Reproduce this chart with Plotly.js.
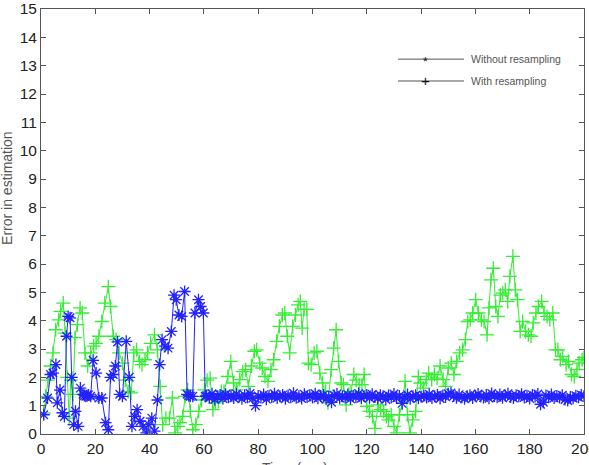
<!DOCTYPE html>
<html>
<head>
<meta charset="utf-8">
<script src="https://cdn.plot.ly/plotly-3.0.1.min.js"></script>
<style>html,body{margin:0;padding:0;background:#fff;}#chart{width:589px;height:465px;}</style>
</head>
<body>
<div id="chart"></div>
<script>
// "Without resampling" (blue, asterisk markers)
var blueX = [1,2.4,3.5,4.4,5.5,6,7,7.9,8.6,9.4,10,10.7,11.3,12,12.7,13.7,14.5,15.5,16,16.5,17,17.5,18.3,19.2,20.3,21.3,22.4,23.8,24.8,25.6,26.6,27.4,28.2,29,30,31.4,32.5,33.5,34.5,35.4,36.5,37.6,38.8,39.7,40.8,41.8,42.9,43.7,44.6,45.7,46.8,48,49,49.8,50.8,51.8,52.9,53.8,54.4,55,55.9,56.7,58,58.8,59.8,60.5,
  61,62,63,64,65,66,67,68,69,70,71,72,73,74,75,76,77,78,79,80,81,82,83,84,85,86,87,88,89,90,91,92,93,94,95,96,97,98,99,100,
  101,102,103,104,105,106,107,108,109,110,111,112,113,114,115,116,117,118,119,120,121,122,123,124,125,126,127,128,129,130,
  131,132,133,134,135,136,137,138,139,140,141,142,143,144,145,146,147,148,149,150,151,152,153,154,155,156,157,158,159,160,
  161,162,163,164,165,166,167,168,169,170,171,172,173,174,175,176,177,178,179,180,181,182,183,184,185,186,187,188,189,190,
  191,192,193,194,195,196,197,198,199,200];
var blueY = [0.68,1.27,2.1,2.15,2.45,1.1,1.55,0.75,0.62,3.45,4.15,4.1,2.0,0.33,0.8,0.27,1.62,1.4,1.36,1.33,1.35,1.38,1.33,2.6,2.15,1.27,1.27,0.4,0.15,2.0,2.1,2.4,3.25,1.4,1.33,3.27,2.0,0.27,0.62,0.86,0.45,0.27,0.04,0.33,0.56,0.1,1.2,2.45,3.33,3.1,3.03,3.62,4.9,4.74,4.2,4.15,5.03,1.4,1.36,1.33,1.33,4.27,4.74,4.5,4.27,1.33,
  1.35,1.28,1.42,1.22,1.33,1.38,1.25,1.40,1.30,1.36,
  1.27,1.41,1.32,1.24,1.37,1.30,1.43,1.26,1.00,1.34,
  1.29,1.39,1.23,1.35,1.31,1.42,1.27,1.33,1.38,1.24,
  1.36,1.30,1.44,1.28,1.33,1.25,1.40,1.31,1.37,1.29,
  1.42,1.26,1.34,1.38,1.23,1.32,1.12,1.36,1.41,1.27,
  1.33,1.29,1.39,1.24,1.35,1.30,1.43,1.26,1.34,1.38,
  1.28,1.40,1.31,1.25,1.37,1.33,1.22,1.36,1.29,1.41,
  1.27,1.34,1.08,1.30,1.39,1.24,1.33,1.37,1.26,1.32,
  1.35,1.29,1.40,1.27,1.33,1.38,1.25,1.36,1.31,1.42,
  1.45,1.34,1.28,1.39,1.30,1.24,1.33,1.37,1.27,1.35,
  1.41,1.32,1.29,1.38,1.26,1.43,1.34,1.30,1.39,1.28,
  1.36,1.42,1.31,1.27,1.37,1.33,1.40,1.29,1.35,1.25,
  1.38,1.32,1.41,1.05,1.12,1.36,1.30,1.39,1.27,1.34,
  1.29,1.37,1.22,1.18,1.31,1.26,1.35,1.30,1.38,1.33];

// "With resampling" (green, plus markers)
var greenX = [1,1.7,2.6,3.5,4.4,5.4,6.5,7.2,8.2,8.9,9.7,10.4,11,11.8,12.5,13.4,14.4,15.2,16.2,17.2,18.3,19.4,20.3,21.3,22.4,23.5,24.8,25.6,26.6,27.7,28.8,30,31,32.1,33.2,34.2,35.2,36.3,37.2,38.3,39.3,40.4,41.8,42.9,43.9,44.8,46,47.3,48.4,49.4,50.4,51.2,52.2,53.1,54,55,55.9,57,58.1,59.1,60.2,
  61.2,62.3,63.3,64.2,65.3,66.4,67.4,68.8,69.9,70.9,72,73.2,74.3,75.4,76.4,77.5,78.6,79.4,80.6,81.5,82.5,83.6,84.7,85.7,86.8,87.8,88.9,89.8,90.7,91.6,92.7,93.7,94.7,95.5,96.2,96.9,97.9,98.5,99.5,100.6,
  101.6,102.7,103.7,104.8,105.7,106.9,107.8,108.7,109.6,110.6,111.4,112.4,113.4,114.2,115.2,116.1,117.2,118.2,119,120,121,122.1,123,124.2,125.1,126.2,127.2,128,129,130,131,132,133.1,134.1,135,135.9,136.9,138,139,139.8,
  140.8,141.9,142.8,143.9,144.9,145.9,147,148.1,149,150,151.1,152.1,153.1,154.2,155.3,156.3,157.2,158.1,159,160.1,161.1,162.2,163.2,164.3,165,165.7,166.6,167.5,168.3,169.2,170.1,171,171.9,172.7,173.8,174.7,175.5,176.5,177.4,178.5,
  179.5,180.5,181.3,182.3,183.2,184.4,185.3,186.4,187.4,188.5,189.5,190.4,191.3,192.2,193.4,194.3,195.4,196.4,197.4,198.2,199.3,200];
var greenY = [0.74,1.33,1.9,2.4,2.86,3.68,4.03,4.33,4.62,3.56,2.0,0.56,1.9,1.4,3.4,3.86,4.45,4.27,2.86,2.4,2.86,3.1,3.2,3.45,3.97,4.62,5.2,4.5,3.45,3.33,2.86,2.5,1.9,1.5,1.45,2.86,2.97,2.56,2.45,2.62,2.86,3.2,3.5,2.97,1.68,0.33,0.56,0.56,1.27,0.04,0.27,0.4,0.62,1.33,1.56,0.8,0.15,0.33,0.8,1.2,1.56,
  1.9,1.97,0.86,1.1,1.15,1.5,1.5,2.03,2.56,1.8,1.56,1.92,2.2,2.27,1.68,2.4,2.92,2.97,2.5,2.33,2.03,1.86,2.27,2.62,3.27,3.8,4.2,4.27,3.45,2.86,3.8,4.2,4.56,4.68,3.74,4.4,4.4,2.5,2.45,2.86,
  2.92,2.15,1.8,1.5,1.1,2.27,3.03,3.68,2.56,1.8,1.74,1.03,1.4,1.5,2.1,1.9,1.74,1.74,2.1,0.98,0.8,0.62,0.2,1.03,0.86,0.8,0.62,0.5,0.68,0.27,0.04,0.68,1.1,1.86,0.68,0.04,0.5,0.8,2.03,1.8,
  1.62,1.92,2.15,1.92,2.1,1.97,2.4,1.92,1.68,2.33,2.5,2.1,2.56,2.86,2.97,3.33,3.97,4.03,4.27,4.74,4.27,4.03,3.97,3.5,4.45,5.44,5.85,4.5,4.15,4.9,4.97,5.09,4.68,5.56,6.27,5.09,4.74,3.62,3.97,3.62,
  3.5,3.45,3.92,4.27,4.5,4.68,4.27,4.15,4.03,4.27,2.97,2.97,2.62,2.74,2.45,2.56,2.1,2.03,2.27,2.5,2.62,2.7];

var seriesNames = ["Without resampling", "With resampling"];
var legendSymbols = ["*", "+"];
var xTicks = [0,20,40,60,80,100,120,140,160,180,200];
var xTickLabels = ["0","20","40","60","80","100","120","140","160","180","200"];
var yTicks = [0,1,2,3,4,5,6,7,8,9,10,11,12,13,14,15];

var traces = [
  {x: greenX, y: greenY, type: 'scatter', mode: 'lines+markers', showlegend: false,
   line: {color: '#33ee33', width: 1},
   marker: {symbol: 'cross-thin-open', size: 10, line: {color: '#33ee33', width: 1.3}}},
  {x: blueX, y: blueY, type: 'scatter', mode: 'lines+markers', showlegend: false,
   line: {color: '#2222ff', width: 1},
   marker: {symbol: 'asterisk-open', size: 10, line: {color: '#2222ff', width: 1.3}}}
];

var axisCommon = {
  showgrid: false, zeroline: false, showline: true, linecolor: '#555', linewidth: 1,
  mirror: 'ticks', ticks: 'inside', ticklen: 5, tickcolor: '#555', ticklabeloverflow: 'allow',
  tickfont: {family: 'Liberation Sans, Arial, sans-serif', size: 15.5, color: '#222'}
};

var fontSmall = {family: 'Liberation Sans, Arial, sans-serif', size: 10.5, color: '#555'};
// legend rows (paper coordinates)
var legRowY = [0.882, 0.8306];
var annotations = [
  {text: 'Error in estimation', xref: 'paper', yref: 'paper', x: -0.0626, y: 0.579, textangle: -90,
   showarrow: false, xanchor: 'center', yanchor: 'middle',
   font: {family: 'Liberation Sans, Arial, sans-serif', size: 14, color: '#555'}},
  {text: 'Time (sec)', xref: 'paper', yref: 'paper', x: 0.468, y: -0.0565, yanchor: 'top', xanchor: 'center',
   showarrow: false, font: {family: 'Liberation Sans, Arial, sans-serif', size: 14, color: '#555'}}
];
var shapes = [];
for (var i = 0; i < seriesNames.length; i++) {
  shapes.push({type: 'line', xref: 'paper', yref: 'paper', x0: 0.6575, x1: 0.779, y0: legRowY[i], y1: legRowY[i],
               line: {color: '#555', width: 1}});
  annotations.push({text: seriesNames[i], xref: 'paper', yref: 'paper', x: 0.788, y: legRowY[i],
                    xanchor: 'left', yanchor: 'middle', showarrow: false, font: fontSmall});
  annotations.push({text: legendSymbols[i], xref: 'paper', yref: 'paper', x: 0.7072, y: legRowY[i] + (i === 0 ? -0.006 : 0.001),
                    xanchor: 'center', yanchor: 'middle', showarrow: false,
                    font: {family: 'Liberation Sans, Arial, sans-serif', size: i === 0 ? 12 : 15, color: '#111'}});
}

var layout = {
  width: 589, height: 465,
  margin: {l: 41, r: 5, t: 9, b: 31},
  paper_bgcolor: '#fff', plot_bgcolor: '#fff',
  xaxis: Object.assign({}, axisCommon, {range: [0, 200], tickmode: 'array', tickvals: xTicks, ticktext: xTickLabels}),
  yaxis: Object.assign({}, axisCommon, {range: [0, 15], tickmode: 'array', tickvals: yTicks}),
  showlegend: false,
  shapes: shapes,
  annotations: annotations
};

Plotly.newPlot('chart', traces, layout, {displayModeBar: false, staticPlot: true});
</script>
</body>
</html>
